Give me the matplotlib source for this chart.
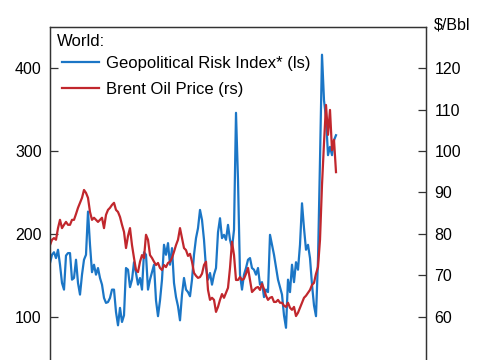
import matplotlib
matplotlib.use("Agg")
import matplotlib.pyplot as plt
import numpy as np

plt.rcParams['font.family'] = ['Liberation Sans', 'DejaVu Sans']

# weekly readings (index only, x labels sit below the visible area)
gpr = [165, 175, 178, 171, 181, 163, 141, 133, 174, 177, 177, 145, 147, 169, 141, 127,
       151, 169, 175, 227, 187, 154, 163, 151, 159, 147, 139, 123, 117, 118, 123, 133,
       133, 106, 90, 111, 94, 102, 159, 157, 136, 145, 166, 153, 139, 147, 133, 178,
       175, 133, 145, 154, 163, 120, 101, 120, 145, 187, 175, 189, 163, 183, 141, 124,
       113, 96, 127, 147, 133, 130, 125, 145, 175, 195, 207, 229, 217, 193, 159, 145,
       153, 139, 151, 159, 202, 219, 195, 199, 193, 211, 193, 183, 205, 346, 265, 151,
       133, 151, 159, 169, 171, 159, 157, 151, 159, 139, 142, 124, 133, 130, 199, 187,
       175, 160, 145, 136, 127, 102, 87, 145, 130, 163, 142, 166, 157, 187, 237, 207,
       181, 187, 171, 139, 114, 101, 169, 289, 416, 361, 340, 295, 305, 295, 313, 319]

brent = [77.3, 78.6, 79.0, 78.6, 81.4, 83.4, 81.4, 82.2, 82.9, 82.2, 82.2, 83.4, 83.4, 84.8,
         86.3, 87.5, 88.7, 90.6, 89.9, 88.7, 85.3, 83.4, 83.9, 83.4, 82.9, 83.4, 83.9, 81.4,
         84.6, 85.8, 86.3, 87.0, 87.5, 85.8, 85.3, 84.1, 82.2, 80.5, 76.6, 79.5, 81.4, 77.3,
         74.2, 71.3, 70.8, 73.3, 74.9, 74.2, 79.8, 78.6, 74.9, 74.2, 73.3, 72.5, 73.0, 71.8,
         71.3, 72.5, 72.0, 73.0, 73.3, 74.2, 75.7, 77.3, 78.6, 81.4, 79.0, 76.6, 76.1, 74.7,
         75.2, 73.3, 70.6, 69.9, 69.4, 69.6, 70.4, 72.5, 73.3, 66.5, 64.1, 64.6, 64.1, 61.2,
         62.4, 64.1, 65.5, 64.6, 65.8, 67.0, 71.8, 78.1, 74.9, 68.9, 68.9, 69.6, 68.9, 69.2,
         70.4, 71.8, 68.9, 66.0, 66.5, 67.0, 67.2, 66.5, 68.0, 66.7, 65.1, 64.1, 64.6, 64.8,
         63.6, 63.6, 64.1, 63.4, 63.4, 62.7, 62.4, 63.4, 62.2, 61.7, 62.4, 60.2, 61.0, 62.2,
         63.4, 64.6, 65.1, 65.8, 66.5, 67.7, 68.2, 70.4, 72.0, 78.6, 91.8, 101.9, 111.1, 103.9,
         109.9, 100.2, 102.7, 94.9]

weeks = np.arange(len(gpr))

left_ticks = [100, 200, 300, 400]
right_ticks = [60, 70, 80, 90, 100, 110, 120]

blue = '#1b76c6'
red = '#c1272d'

fig = plt.figure(figsize=(4.85, 3.6), dpi=100)
ax = fig.add_axes([50 / 485, 0.0, 376 / 485, 333 / 360])
ax2 = ax.twinx()

l1, = ax.plot(weeks, gpr, color=blue, lw=1.6, label='Geopolitical Risk Index* (ls)')
l2, = ax2.plot(weeks, brent, color=red, lw=1.6, label='Brent Oil Price (rs)')

ax.set_xlim(0, 188)
ax.set_ylim(48.2, 449.4)
ax2.set_ylim(49.6, 129.9)
ax.set_yticks(left_ticks)
ax2.set_yticks(right_ticks)
ax.set_xticks([])

for a in (ax, ax2):
    a.spines['bottom'].set_visible(False)
    for s in a.spines.values():
        s.set_linewidth(0.9)
        s.set_color('#333333')
    a.tick_params(axis='y', direction='in', length=6, width=0.9, labelsize=11.5,
                  color='#333333', pad=6)

leg = ax2.legend([l1, l2], [l1.get_label(), l2.get_label()], loc='upper left',
                 frameon=False, fontsize=12, handlelength=2.2, handletextpad=0.45,
                 labelspacing=0.65, borderaxespad=0.0, borderpad=0.0,
                 bbox_to_anchor=(12 / 376, 1 - 29 / 333))

fig.text(57 / 485, 1 - 41 / 360, 'World:', fontsize=12, ha='left', va='center')
fig.text(434 / 485, 1 - 25 / 360, '$/Bbl', fontsize=11.5, ha='left', va='center')

fig.savefig('out.png', dpi=100)
